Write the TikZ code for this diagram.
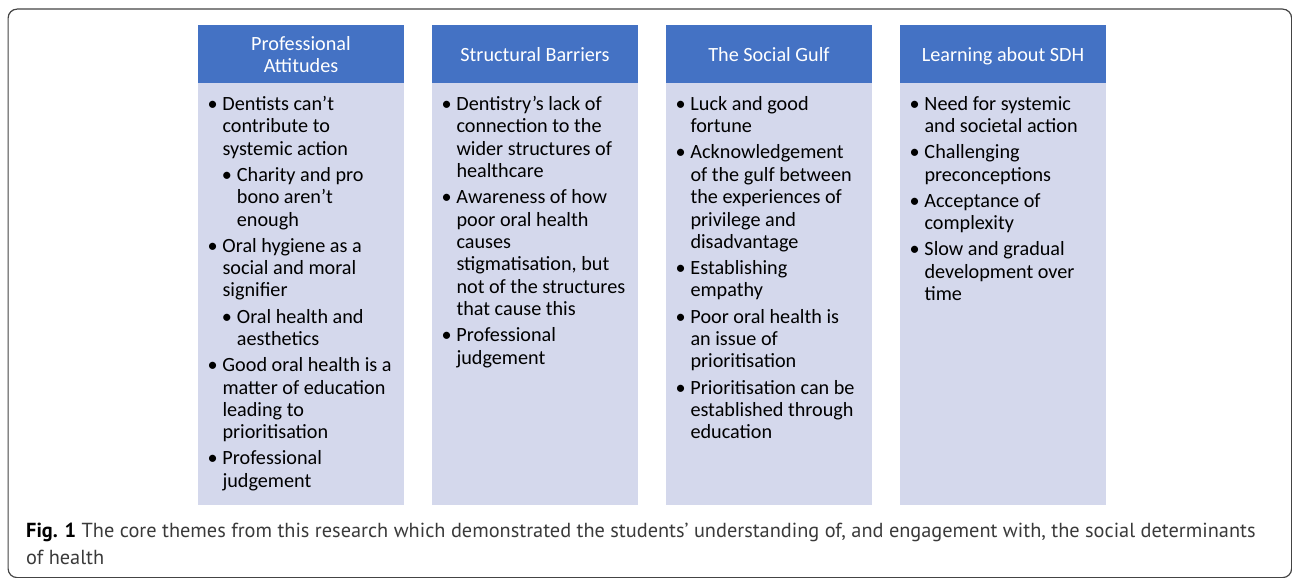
\documentclass[tikz,border=0pt]{standalone}
\usepackage{fontspec}
\setmainfont{Carlito}
\newfontfamily\capfont{PT Sans}
\definecolor{hdrblue}{HTML}{4472C4}
\definecolor{bodyfill}{HTML}{D4D8EC}
\definecolor{capgray}{HTML}{3A3A3A}
\definecolor{framegray}{HTML}{444444}
\newcommand{\bl}{\llap{\makebox[15bp][l]{•}}}
\newcommand{\ind}{\hspace*{14.4bp}}
\newcommand{\sbl}{\ind\bl}
\newcommand{\gp}{\\[3.6bp]}
\tikzset{
  hdrbox/.style={draw=none, fill=hdrblue, minimum width=206bp, minimum height=58bp, inner sep=0, anchor=north west},
  bodybox/.style={draw=none, fill=bodyfill, minimum width=206bp, minimum height=422bp, inner sep=0, anchor=north west},
  hdrtxt/.style={text=white, inner sep=0, anchor=base, font=\fontsize{20.2bp}{22bp}\selectfont},
  bodytxt/.style={text=black, inner sep=0, anchor=base west, font=\fontsize{20.2bp}{22.45bp}\selectfont},
  frame/.style={draw=framegray, line width=1.2bp, rounded corners=9bp, minimum width=1283.5bp, minimum height=568.5bp, inner sep=0, anchor=north west},
  captxt/.style={inner sep=0, anchor=base west, text=capgray, font=\capfont\fontsize{20.33bp}{27bp}\selectfont}
}
\begin{document}
\begin{tikzpicture}[x=1bp, y=-1bp]
\useasboundingbox (0,0) rectangle (1292,578);
\node[frame] (frame) at (7.5,8.5) {};
% column boxes
\node[hdrbox] (h1) at (198,25) {};
\node[hdrbox] (h2) at (432,25) {};
\node[hdrbox] (h3) at (666,25) {};
\node[hdrbox] (h4) at (900,25) {};
\node[bodybox] (b1) at (198,83) {};
\node[bodybox] (b2) at (432,83) {};
\node[bodybox] (b3) at (666,83) {};
\node[bodybox] (b4) at (900,83) {};
% headers
\node[hdrtxt] (ht1) at (301,51) {\begin{tabular}[t]{@{}c@{}}Professional\\Attitudes\end{tabular}};
\node[hdrtxt] (ht2) at (535,61.7) {Structural Barriers};
\node[hdrtxt] (ht3) at (769,61.7) {The Social Gulf};
\node[hdrtxt] (ht4) at (1003,61.7) {Learning about SDH};
% bodies
\node[bodytxt] (bt1) at (222.3,110.2) {\begin{tabular}[t]{@{}l@{}}
\bl Dentists can’t\\
contribute to\\
systemic action\gp
\sbl Charity and pro\\
\ind bono aren’t\\
\ind enough\gp
\bl Oral hygiene as a\\
social and moral\\
signifier\gp
\sbl Oral health and\\
\ind aesthetics\gp
\bl Good oral health is a\\
matter of education\\
leading to\\
prioritisation\gp
\bl Professional\\
judgement
\end{tabular}};
\node[bodytxt] (bt2) at (456.3,110.2) {\begin{tabular}[t]{@{}l@{}}
\bl Dentistry’s lack of\\
connection to the\\
wider structures of\\
healthcare\gp
\bl Awareness of how\\
poor oral health\\
causes\\
stigmatisation, but\\
not of the structures\\
that cause this\gp
\bl Professional\\
judgement
\end{tabular}};
\node[bodytxt] (bt3) at (690.3,110.2) {\begin{tabular}[t]{@{}l@{}}
\bl Luck and good\\
fortune\gp
\bl Acknowledgement\\
of the gulf between\\
the experiences of\\
privilege and\\
disadvantage\gp
\bl Establishing\\
empathy\gp
\bl Poor oral health is\\
an issue of\\
prioritisation\gp
\bl Prioritisation can be\\
established through\\
education
\end{tabular}};
\node[bodytxt] (bt4) at (924.3,110.2) {\begin{tabular}[t]{@{}l@{}}
\bl Need for systemic\\
and societal action\gp
\bl Challenging\\
preconceptions\gp
\bl Acceptance of\\
complexity\gp
\bl Slow and gradual\\
development over\\
time
\end{tabular}};
% caption
\node[captxt] (cap) at (26,537.3) {\begin{tabular}[t]{@{}l@{}}
{\color{black}\bfseries Fig. 1} The core themes from this research which demonstrated the students’ understanding of, and engagement with, the social determinants\\
of health
\end{tabular}};
\end{tikzpicture}
\end{document}
